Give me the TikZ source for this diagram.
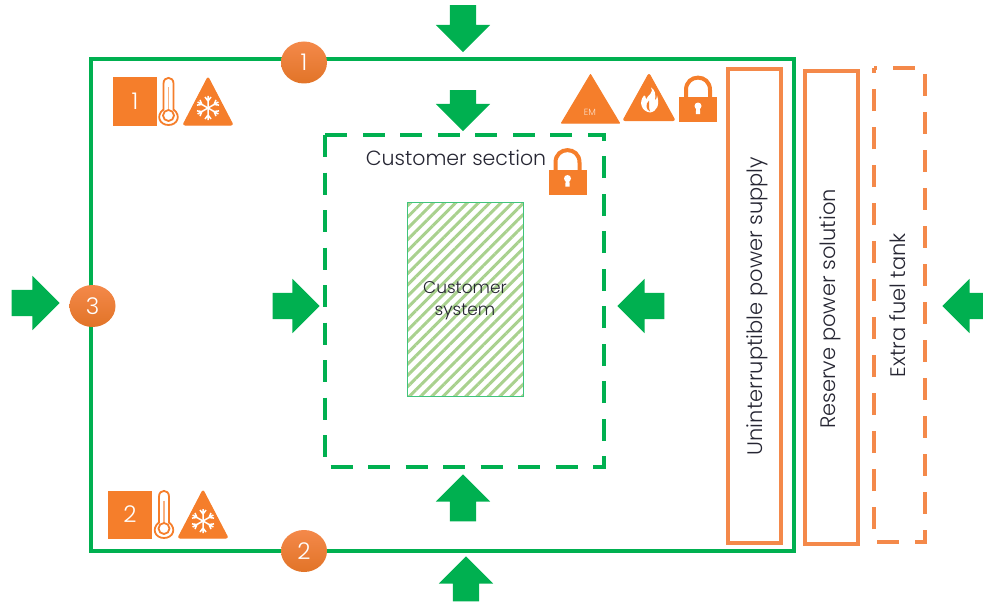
\documentclass[tikz,border=0pt]{standalone}
\usepackage{fontspec}
\setmainfont{Poppins}[UprightFont=* Light]
\usetikzlibrary{shapes.arrows,shapes.geometric,patterns.meta}
\definecolor{boxgreen}{HTML}{00B050}
\definecolor{hatchgreen}{HTML}{A9D18E}
\definecolor{signorange}{HTML}{F57E2B}
\definecolor{lineorange}{HTML}{F4894A}
\definecolor{darktext}{HTML}{262633}
\tikzset{
    flow/.style={single arrow, fill=boxgreen, inner xsep=0pt, inner ysep=13pt, minimum width=54pt,
        single arrow head extend=14pt, single arrow head indent=0pt},
    badge/.style={ellipse, minimum width=46pt, minimum height=42pt, inner sep=0pt,
        top color=lineorange, bottom color=signorange!92!black, text=white, font=\fontsize{23}{23}\selectfont},
    zonesign/.style={fill=signorange, text=white, inner sep=0pt, minimum width=44pt,
        minimum height=48pt, font=\fontsize{23}{23}\selectfont},
    powerbox/.style={draw=lineorange, line width=4pt},
    powerlabel/.style={rotate=90, text=darktext, font=\fontsize{21}{21}\selectfont},
    warnshape/.style={fill=signorange, draw=signorange, line width=1pt, line join=round},
    locksign/.pic={
        \draw [signorange, line width=4pt]
            (-12,0) -- (-12,-9) .. controls (-12,-25.5) and (12,-25.5) .. (12,-9) -- (12,0);
        \fill [signorange] (-19,-2) rectangle (19,23);
        \fill [white] (0,7) circle (3.5);
        \fill [white] (-1.8,8) -- (1.8,8) -- (2.2,15) -- (-2.2,15) -- cycle;
    },
    thermosign/.pic={
        \draw [signorange, line width=1.8pt, fill=white]
            (-5,8) -- (-5,-18) .. controls (-5,-25.5) and (5,-25.5) .. (5,-18) -- (5,8)
            .. controls (13,14) and (9,23.5) .. (0,23.5) .. controls (-9,23.5) and (-13,14) .. (-5,8) -- cycle;
        \draw [signorange!60, line width=1.5pt] (0,-14) -- (0,8);
        \draw [signorange, line width=1.8pt] (0,14) circle (5.5);
    },
    frostsign/.pic={
        \draw [warnshape, rounded corners=2pt] (-25,24) -- (0,-24) -- (25,24) -- cycle;
        \foreach \ang in {30,90,150,210,270,330} {
            \draw [white, line width=1.5pt, shift={(0,7)}, rotate=\ang]
                (0,0) -- (12,0) (7,0) -- (11,3) (7,0) -- (11,-3);
        }
    },
    firesign/.pic={
        \draw [warnshape, rounded corners=2pt] (-26,23) -- (0,-24) -- (26,23) -- cycle;
        \fill [white] (2,-10) .. controls (5,-4) and (-1,-3) .. (-3,2)
            .. controls (-3,-1) and (-4,-2) .. (-5,-2)
            .. controls (-11,5) and (-7,14) .. (1,15)
            .. controls (8,14) and (11,7) .. (8,-2)
            .. controls (8,1) and (7,2) .. (6,3)
            .. controls (7,-3) and (6,-8) .. (2,-10) -- cycle;
        \fill [signorange] (0,3) .. controls (-4,7) and (-3,12) .. (1,14)
            .. controls (-1,9) and (1,7) .. (0,3) -- cycle;
    },
}
\begin{document}
\begin{tikzpicture}[x=1pt,y=-1pt]
    \useasboundingbox (0,0) rectangle (983,602);

    % main container and customer section
    \draw [boxgreen, line width=4pt] (91,59) rectangle (794,551);
    \draw [boxgreen, line width=4pt, dash pattern=on 22pt off 15.5pt] (325,135) rectangle (604,467);
    \node (section) at (456,158) {\fontsize{20.5}{20.5}\selectfont\color{darktext}Customer section};
    \node [minimum width=116pt, minimum height=194pt, inner sep=0pt, draw=boxgreen!75, line width=1pt,
        pattern={Lines[angle=45,distance=8pt,line width=3pt]}, pattern color=hatchgreen]
        (system) at (465,299) {};
    \node [align=center, text=darktext, font=\fontsize{17}{22}\selectfont] (systemlabel) at (465,301) {Customer\\system};

    % power boxes
    \draw [powerbox] (728,69) rectangle (781,543);
    \draw [powerbox] (805,71) rectangle (858,544);
    \draw [powerbox, dash pattern=on 22pt off 16pt, dash phase=19pt] (874,68) -- (925,68) -- (925,542) -- (874,542) -- cycle;
    \node [powerlabel] (ups) at (757,306) {Uninterruptible power supply};
    \node [powerlabel] (reserve) at (830,309) {Reserve power solution};
    \node [powerlabel] (tank) at (898,305) {Extra fuel tank};

    % flow arrows
    \node [flow, rotate=-90, minimum height=47pt] (outertop) at (463,22) {};
    \node [flow, rotate=-90, minimum height=41pt] (innertop) at (463,104) {};
    \node [flow, minimum height=48pt] (outerleft) at (29,303) {};
    \node [flow, minimum height=47pt] (innerleft) at (289.5,306) {};
    \node [flow, rotate=180, minimum height=47pt] (innerright) at (647.5,306) {};
    \node [flow, rotate=180, minimum height=41pt] (outerright) at (969.5,306) {};
    \node [flow, rotate=90, minimum height=47pt] (innerbottom) at (463,504.5) {};
    \node [flow, rotate=90, minimum height=45pt] (outerbottom) at (466,585.5) {};

    % numbered badges
    \node [badge] (badgeone) at (304,62.5) {1};
    \node [badge] (badgetwo) at (304,551) {2};
    \node [badge] (badgethree) at (92.5,306) {3};

    % signs
    \node [zonesign] (zoneone) at (135,101.5) {1};
    \pic at (168.5,101.5) {thermosign};
    \pic at (208,101) {frostsign};
    \node [zonesign] (zonetwo) at (130,514.5) {2};
    \pic at (164,514.5) {thermosign};
    \pic at (203,514) {frostsign};

    \draw [warnshape] (561.5,123) -- (590.5,74.5) -- (619.5,123) -- cycle;
    \node [text=white!75!signorange, inner sep=0pt, font=\fontsize{9}{9}\selectfont] (emlabel) at (590,112) {EM};
    \pic at (649,97.5) {firesign};
    \pic at (698,99) {locksign};
    \pic at (567.5,171.5) {locksign};
\end{tikzpicture}
\end{document}
